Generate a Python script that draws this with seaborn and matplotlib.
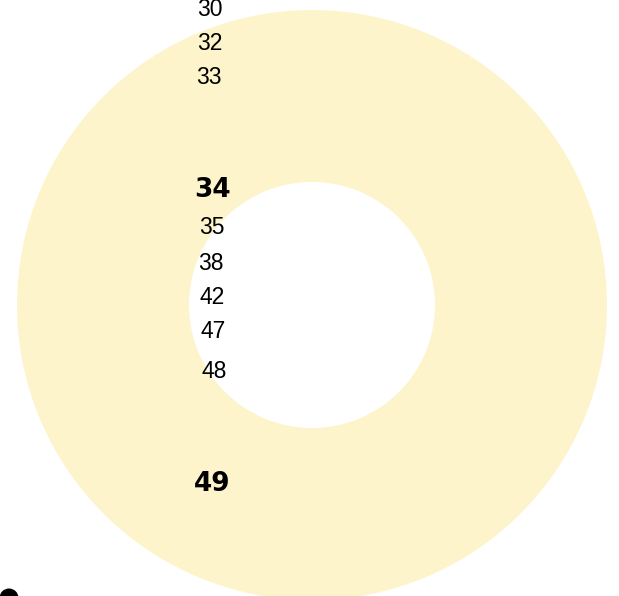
import matplotlib
matplotlib.use("Agg")
import matplotlib.pyplot as plt
import seaborn as sns
from matplotlib.patches import Circle

sns.set_theme(style="white")
plt.rcParams['font.family'] = ['Liberation Sans', 'DejaVu Sans']

# data
ring_values = [1]
labels = ["30", "32", "33", "34", "35", "38", "42", "47", "48", "49"]
bold_labels = ["34", "49"]

# layout (pixel positions of label centers)
label_x = [210, 210, 209, 212, 212, 211, 212, 213, 214, 212]
label_y = [9, 44, 78, 190, 228, 263, 297, 331, 372, 484]

W, H = 619, 596
fig = plt.figure(figsize=(W / 100, H / 100), dpi=100)
ax = fig.add_axes([0, 0, 1, 1])
ax.pie(ring_values, colors=["#FEF4CC"], radius=295, center=(312, 305),
       wedgeprops=dict(width=295 - 123, linewidth=0), startangle=90)
ax.set_xlim(0, W)
ax.set_ylim(H, 0)
ax.set_aspect("equal")
ax.axis("off")

for lab, x, y in zip(labels, label_x, label_y):
    if lab in bold_labels:
        ax.text(x, y, lab, ha="center", va="center", fontsize=19,
                fontweight="bold", family=["DejaVu Sans"], color="black")
    else:
        ax.text(x, y, lab, ha="center", va="center", fontsize=16.5, color="black")

ax.add_patch(Circle((9, 598), 9.5, color="black", lw=0))

fig.savefig("out.png", dpi=100)
